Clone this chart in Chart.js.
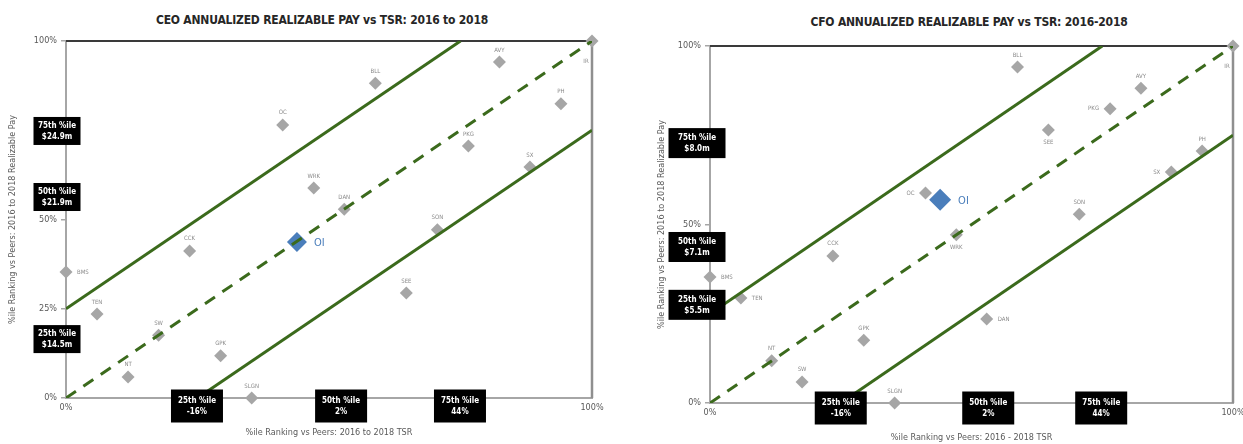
<!DOCTYPE html>
<html>
<head>
<meta charset="utf-8">
<script src="https://cdn.jsdelivr.net/npm/chart.js@4.4.1/dist/chart.umd.min.js"></script>
<style>
  body { margin:0; width:1243px; height:444px; overflow:hidden; background:#fff; position:relative;
         font-family:'Liberation Sans Narrow','DejaVu Sans Condensed',sans-serif; }
  .ttl { position:absolute; font-weight:bold; font-size:12px; color:#262626; white-space:nowrap; transform:translateX(-50%); letter-spacing:-0.2px; }
  canvas { position:absolute; top:0; }
</style>
</head>
<body>
<div class="ttl" style="left:322px;top:13px;">CEO ANNUALIZED REALIZABLE PAY vs TSR: 2016 to 2018</div>
<div class="ttl" style="left:969px;top:15px;">CFO ANNUALIZED REALIZABLE PAY vs TSR: 2016-2018</div>
<canvas id="ceoChart" width="620" height="444" style="left:0;"></canvas>
<canvas id="cfoChart" width="640" height="444" style="left:625px;"></canvas>

<script>
// peer group, ranked by 2016-2018 TSR
const peers        = ['BMS','TEN','NT','SW','CCK','GPK','SLGN','OC','WRK','DAN','BLL','SEE','SON','PKG','AVY','SX','PH','IR'];
const peerTsrRank  = [0, 5.9, 11.8, 17.6, 23.5, 29.4, 35.3, 41.2, 47.1, 52.9, 58.8, 64.7, 70.6, 76.5, 82.4, 88.2, 94.1, 100];
const ceoPayRank   = [35.3, 23.5, 5.9, 17.6, 41.2, 11.8, 0, 76.5, 58.8, 52.9, 88.2, 29.4, 47.1, 70.6, 94.1, 64.7, 82.4, 100];
const cfoPayRank   = [35.3, 29.4, 11.8, 5.9, 41.2, 17.6, 0, 58.8, 47.1, 23.5, 94.1, 76.5, 52.9, 82.4, 88.2, 64.7, 70.6, 100];

// OI itself: [tsr rank, pay rank]
const ceoOi = [43.9, 43.7];
const cfoOi = [44.0, 56.9];

const pctTicks = [0, 25, 50, 75, 100];

// alignment band: +/- 25 points around the parity line
const upperX  = [0, 75],   upperY  = [25, 100];
const parityX = [0, 100],  parityY = [0, 100];
const lowerX  = [25, 100], lowerY  = [0, 75];

// percentile callouts
const tsrMarkerNames = ['25th %ile', '50th %ile', '75th %ile'];
const tsrMarkerText  = ['-16%', '2%', '44%'];
const ceoTsrMarkerAt = [24.9, 52.3, 74.9];
const cfoTsrMarkerAt = [25.0, 53.2, 74.8];

const payMarkerNames = ['75th %ile', '50th %ile', '25th %ile'];
const ceoPayText     = ['$24.9m', '$21.9m', '$14.5m'];
const ceoPayMarkerAt = [74.8, 56.3, 16.5];
const cfoPayText     = ['$8.0m', '$7.1m', '$5.5m'];
const cfoPayMarkerAt = [72.8, 43.7, 27.5];

// where each peer label sits relative to its marker
const ceoLabelSide = ['r','t','t','t','t','t','t','t','t','t','t','t','t','t','t','t','t','bl'];
const cfoLabelSide = ['r','r','t','t','t','t','t','l','b','r','t','b','t','l','t','l','t','bl'];

const FONT = "'Liberation Sans Narrow','DejaVu Sans Condensed',sans-serif";
const GREEN = '#3b6a1c';
Chart.defaults.font.family = FONT;

function overlay(cfg) {
  return {
    id: 'overlay',
    beforeDatasetsDraw(chart) {
      const { ctx, chartArea: a } = chart;
      ctx.save();
      ctx.lineWidth = 2;
      ctx.strokeStyle = '#3a3a3a';
      ctx.beginPath(); ctx.moveTo(a.left, a.top); ctx.lineTo(a.right, a.top); ctx.stroke();
      ctx.strokeStyle = '#8f8f8f';
      ctx.lineWidth = 2.5;
      ctx.beginPath(); ctx.moveTo(a.right, a.top); ctx.lineTo(a.right, a.bottom); ctx.stroke();
      ctx.restore();
    },
    afterDatasetsDraw(chart) {
      const { ctx } = chart;
      const pts = chart.getDatasetMeta(0).data;
      ctx.save();
      ctx.font = '6px ' + FONT;
      ctx.fillStyle = '#8a8a8a';
      pts.forEach((p, i) => {
        const side = cfg.sides[i];
        let x = p.x, y = p.y;
        ctx.textAlign = 'center'; ctx.textBaseline = 'middle';
        if (side === 't') y -= 12;
        else if (side === 'b') y += 13;
        else if (side === 'r') { x += 11; ctx.textAlign = 'left'; }
        else if (side === 'l') { x -= 11; ctx.textAlign = 'right'; }
        else if (side === 'bl') { x -= 6; y += 20; }
        ctx.fillText(peers[i], x, y);
      });
      const oi = chart.getDatasetMeta(1).data[0];
      ctx.font = '11px ' + FONT;
      ctx.fillStyle = '#4a7ebb';
      ctx.textAlign = 'left';
      ctx.fillText('OI', oi.x + cfg.oiR + 7, oi.y + 1);
      ctx.restore();
    },
    afterDraw(chart) {
      const { ctx, scales: { x, y } } = chart;
      const box = (cx, cy, w, h, l1, l2) => {
        ctx.fillStyle = '#000';
        ctx.fillRect(cx - w / 2, cy - h / 2, w, h);
        ctx.fillStyle = '#fff';
        ctx.font = 'bold 8px ' + FONT;
        ctx.textAlign = 'center'; ctx.textBaseline = 'middle';
        ctx.fillText(l1, cx, cy - 5);
        ctx.fillText(l2, cx, cy + 6);
      };
      ctx.save();
      cfg.payAt.forEach((v, i) => box(x.left - cfg.yBoxShift, y.getPixelForValue(v), cfg.yBoxW, cfg.yBoxH, payMarkerNames[i], cfg.payText[i]));
      cfg.tsrAt.forEach((v, i) => box(x.getPixelForValue(v), y.bottom + cfg.xBoxShift, 52, 33, tsrMarkerNames[i], tsrMarkerText[i]));
      ctx.restore();
    }
  };
}

function makeChart(id, cfg) {
  const pt = (xs, ys) => xs.map((v, i) => ({ x: v, y: ys[i] }));
  const lineSet = (xs, ys, dash) => ({
    data: pt(xs, ys), showLine: true, borderColor: GREEN, borderWidth: 3,
    borderDash: dash, pointRadius: 0, order: 1
  });
  const tickCfg = { color: '#595959', font: { size: 9 }, callback: v => v + '%', autoSkip: false, maxRotation: 0 };
  new Chart(document.getElementById(id), {
    type: 'scatter',
    data: {
      datasets: [
        { data: pt(peerTsrRank, cfg.pay), pointStyle: 'rectRot', pointRadius: 6.5,
          backgroundColor: '#a6a6a6', borderWidth: 0, clip: false, order: 2 },
        { data: [{ x: cfg.oi[0], y: cfg.oi[1] }], pointStyle: 'rectRot', pointRadius: cfg.oiR,
          backgroundColor: '#4a7ebb', borderWidth: 0, clip: false, order: 2 },
        lineSet(upperX, upperY, []),
        lineSet(parityX, parityY, [12, 9]),
        lineSet(lowerX, lowerY, [])
      ]
    },
    options: {
      responsive: false,
      animation: false,
      events: [],
      layout: { padding: { top: cfg.top, right: cfg.right, left: 0, bottom: 0 } },
      plugins: { legend: { display: false }, tooltip: { enabled: false } },
      scales: {
        x: {
          type: 'linear', min: 0, max: 100,
          afterBuildTicks: s => { s.ticks = pctTicks.map(v => ({ value: v })); },
          ticks: { ...tickCfg, padding: 4 },
          grid: { drawOnChartArea: false, drawTicks: false },
          border: { color: '#a6a6a6', width: 2 },
          title: { display: true, text: cfg.xTitle, color: '#595959', font: { size: 9 },
                   padding: { top: 0, bottom: cfg.xTitlePad } },
          afterFit: s => { s.height = cfg.xAxisH; }
        },
        y: {
          type: 'linear', min: 0, max: 100,
          afterBuildTicks: s => { s.ticks = pctTicks.map(v => ({ value: v })); },
          ticks: { ...tickCfg, padding: 4 },
          grid: { drawOnChartArea: false, drawTicks: true, tickLength: 5, color: '#a6a6a6', lineWidth: 1.5 },
          border: { color: '#a6a6a6', width: 2 },
          title: { display: true, text: '%ile Ranking vs Peers: 2016 to 2018 Realizable Pay', color: '#595959',
                   font: { size: 9 }, padding: { top: cfg.yTitlePad, bottom: 0 } },
          afterFit: s => { s.width = cfg.yAxisW; }
        }
      }
    },
    plugins: [overlay(cfg)]
  });
}

makeChart('ceoChart', {
  pay: ceoPayRank, oi: ceoOi, oiR: 10, sides: ceoLabelSide,
  payAt: ceoPayMarkerAt, payText: ceoPayText, tsrAt: ceoTsrMarkerAt,
  top: 41, right: 28, xAxisH: 46, yAxisW: 66, xTitlePad: 6, yTitlePad: 7,
  yBoxShift: 9, yBoxW: 47, yBoxH: 28, xBoxShift: 8,
  xTitle: '%ile Ranking vs Peers: 2016 to 2018 TSR'
});

makeChart('cfoChart', {
  pay: cfoPayRank, oi: cfoOi, oiR: 11, sides: cfoLabelSide,
  payAt: cfoPayMarkerAt, payText: cfoPayText, tsrAt: cfoTsrMarkerAt,
  top: 46, right: 32, xAxisH: 41, yAxisW: 85, xTitlePad: 1, yTitlePad: 31,
  yBoxShift: 13, yBoxW: 57, yBoxH: 30, xBoxShift: 5,
  xTitle: '%ile Ranking vs Peers: 2016 - 2018 TSR'
});
</script>
</body>
</html>
